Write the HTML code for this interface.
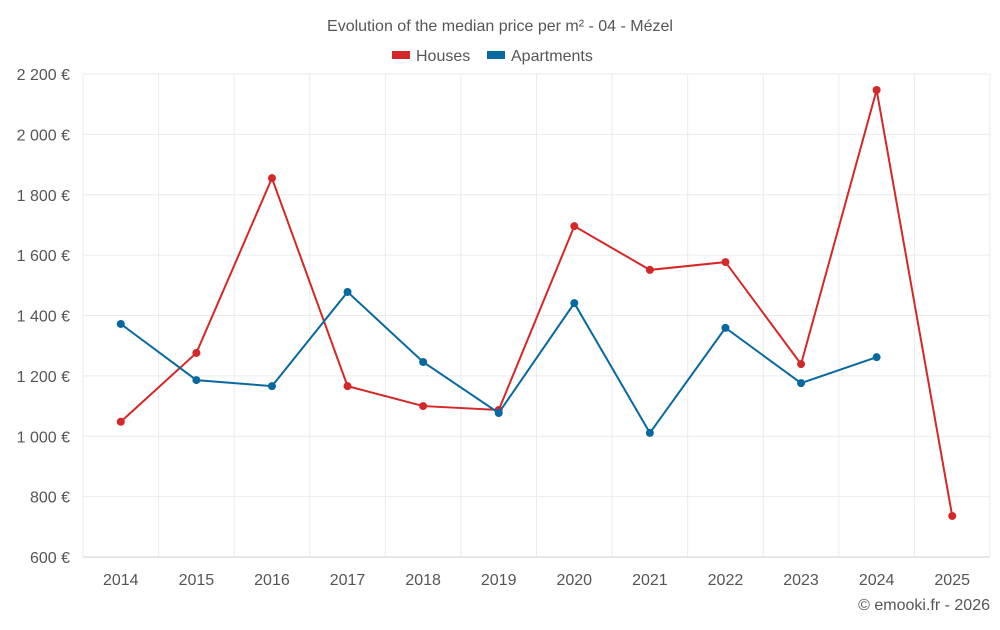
<!DOCTYPE html>
<html><head><meta charset="utf-8"><style>
body{margin:0;background:#fff;font-family:"Liberation Sans",sans-serif;}
svg text{font-family:"Liberation Sans",sans-serif;}
</style></head><body>
<svg id="chart" width="1000" height="625">
<text x="500" y="31" text-anchor="middle" font-size="16" fill="#555">Evolution of the median price per m² - 04 - Mézel</text>
<g>
<rect x="392" y="51" width="18" height="8" fill="#d62728"/>
<text x="416" y="61" font-size="16" fill="#555">Houses</text>
<rect x="487" y="51" width="18" height="8" fill="#0868a0"/>
<text x="511" y="61" font-size="16" fill="#555">Apartments</text>
</g>
<g id="grid"></g><g id="axes"></g><g id="series"></g>
<text x="990" y="610" text-anchor="end" font-size="16" fill="#555">© emooki.fr - 2026</text>
</svg>
<script>
const categories=["2014","2015","2016","2017","2018","2019","2020","2021","2022","2023","2024","2025"];
const houses=[1048,1276,1855,1166,1100,1087,1696,1551,1577,1239,2147,736];
const apartments=[1372,1186,1166,1478,1246,1077,1441,1011,1359,1176,1262,null];
const yTicks=[600,800,1000,1200,1400,1600,1800,2000,2200];
const yTickLabels=["600 €","800 €","1 000 €","1 200 €","1 400 €","1 600 €","1 800 €","2 000 €","2 200 €"];
const L=83,R=990,T=74,B=557,yMin=600,yMax=2200;
const bw=(R-L)/categories.length;
const xS=i=>L+bw*(i+0.5);
const yS=v=>B-(v-yMin)/(yMax-yMin)*(B-T);
const NS="http://www.w3.org/2000/svg";
function mk(tag,attrs,parent){const e=document.createElementNS(NS,tag);for(const k in attrs)e.setAttribute(k,attrs[k]);parent.appendChild(e);return e;}
const grid=document.getElementById('grid'),axes=document.getElementById('axes'),ser=document.getElementById('series');
yTicks.forEach((v,i)=>{
 const l=mk('line',{x1:L,x2:R,y1:yS(v),y2:yS(v),stroke:i==0?'#ccc':'#ebebeb'},grid);
 
 
 const t=mk('text',{x:L-13,y:yS(v)+6,'text-anchor':'end','font-size':16,fill:'#555'},axes);
 t.textContent=yTickLabels[i];
 
 
});
for(let i=0;i<=categories.length;i++){
 const l=mk('line',{x1:L+bw*i,x2:L+bw*i,y1:T,y2:B,stroke:'#ebebeb'},grid);
 
 
}
categories.forEach((c,i)=>{
 const t=mk('text',{x:xS(i),y:585,'text-anchor':'middle','font-size':16,fill:'#555'},axes);
 t.textContent=c;
 
 
});
function draw(data,color,name){
 let d='';data.forEach((v,i)=>{if(v==null)return;d+=(d?'L':'M')+xS(i)+','+yS(v);});
 const p=mk('path',{d:d,fill:'none',stroke:color,'stroke-width':2},ser);
 
 
 data.forEach((v,i)=>{if(v==null)return;
  const c=mk('circle',{cx:xS(i),cy:yS(v),r:4,fill:color},ser);
  
  
 });
}
draw(houses,'#d62728','houses');
draw(apartments,'#0868a0','apartments');
</script>
</body></html>
